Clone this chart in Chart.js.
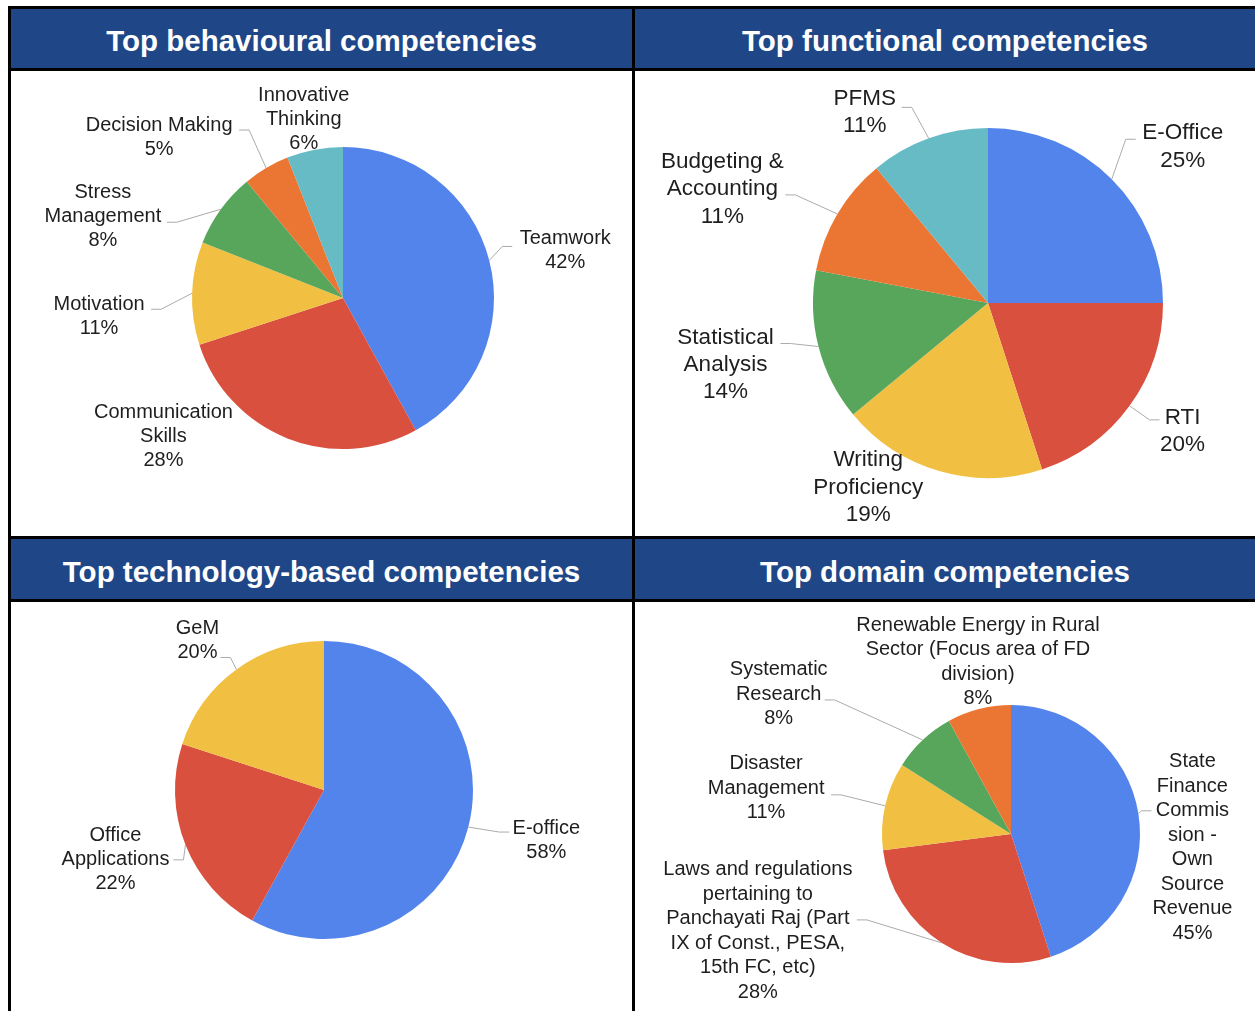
<!DOCTYPE html>
<html>
<head>
<meta charset="utf-8">
<title>Top competencies</title>
<script src="https://cdn.jsdelivr.net/npm/chart.js@4.4.1/dist/chart.umd.min.js"></script>
<style>
  html, body { margin: 0; padding: 0; background: #fff; }
  body { width: 1255px; height: 1011px; position: relative; overflow: hidden; font-family: "Liberation Sans", Arial, Helvetica, sans-serif; }
  .frame { position: absolute; left: 8px; top: 6px; right: 0; bottom: 0; background: #000; }
  .box { position: absolute; background: #fff; }
  .head { position: absolute; background: #1f4788; color: #fff; font-weight: bold; font-size: 29.5px;
          box-sizing: border-box; padding-top: 5px;
          display: flex; align-items: center; justify-content: center; white-space: nowrap; }
  canvas { display: block; }
</style>
</head>
<body>
<div class="frame"></div>

<div class="head" style="left:11px;top:9px;width:621px;height:59px">Top behavioural competencies</div>
<div class="head" style="left:635px;top:9px;width:620px;height:59px">Top functional competencies</div>
<div class="head" style="left:11px;top:539px;width:621px;height:60px">Top technology-based competencies</div>
<div class="head" style="left:635px;top:539px;width:620px;height:60px">Top domain competencies</div>

<div class="box" style="left:11px;top:71px"><canvas id="behavioural" width="621" height="465"></canvas></div>
<div class="box" style="left:635px;top:71px"><canvas id="functional" width="620" height="465"></canvas></div>
<div class="box" style="left:11px;top:602px"><canvas id="technology" width="621" height="409"></canvas></div>
<div class="box" style="left:635px;top:602px"><canvas id="domain" width="620" height="409"></canvas></div>

<script>
// shares in percent, slices run clockwise from 12 o'clock
const behaviouralLabels = ['Teamwork', ['Communication', 'Skills'], 'Motivation', ['Stress', 'Management'], 'Decision Making', ['Innovative', 'Thinking']];
const behaviouralShares = [42, 28, 11, 8, 5, 6];

const functionalLabels = ['E-Office', 'RTI', ['Writing', 'Proficiency'], ['Statistical', 'Analysis'], ['Budgeting &', 'Accounting'], 'PFMS'];
const functionalShares = [25, 20, 19, 14, 11, 11];

const technologyLabels = ['E-office', ['Office', 'Applications'], 'GeM'];
const technologyShares = [58, 22, 20];

const domainLabels = [
    ['State', 'Finance', 'Commis', 'sion -', 'Own', 'Source', 'Revenue'],
    ['Laws and regulations', 'pertaining to', 'Panchayati Raj (Part', 'IX of Const., PESA,', '15th FC, etc)'],
    ['Disaster', 'Management'],
    ['Systematic', 'Research'],
    ['Renewable Energy in Rural', 'Sector (Focus area of FD', 'division)']
];
const domainShares = [45, 28, 11, 8, 8];

const palette = ['#5384ec', '#d9503f', '#f1c042', '#58a65c', '#eb7532', '#67bbc5'];

// label block offset (dx, dy) from the slice's outer mid point; lead = end of leader line
const behaviouralPlacement = [
    { dx: 76, dy: -24, lead: [23, -14] },
    { dx: -124, dy: -28 },
    { dx: -93, dy: 9, lead: [-41, 16] },
    { dx: -118, dy: -19, lead: [-54, 13] },
    { dx: -107, dy: -45, lead: [-27, -38] },
    { dx: -11, dy: -56 }
];
const functionalPlacement = [
    { dx: 71, dy: -48, lead: [24, -40] },
    { dx: 53, dy: 10, lead: [30, 14] },
    { dx: -71, dy: -13 },
    { dx: -93, dy: -11, lead: [-38, -3] },
    { dx: -115, dy: -54, lead: [-52, -19] },
    { dx: -64, dy: -42, lead: [-27, -31] }
];
const technologyPlacement = [
    { dx: 78, dy: -1, lead: [41, 5] },
    { dx: -70, dy: -11, lead: [-12, 15] },
    { dx: -39, dy: -43, lead: [-16, -12] }
];
const domainPlacement = [
    { dx: 54, dy: -54, lead: [13, -3] },
    { dx: -184, dy: -75, lead: [-85, -23] },
    { dx: -119, dy: -44, lead: [-54, -11] },
    { dx: -144, dy: -72, lead: [-98, -40] },
    { dx: -1, dy: -86 }
];

// name + percentage outside each slice, with a bent grey leader line
const outsideLabels = {
    id: 'outsideLabels',
    afterDatasetsDraw(chart, args, opts) {
        const ctx = chart.ctx;
        const meta = chart.getDatasetMeta(0);
        const values = chart.data.datasets[0].data;
        ctx.save();
        ctx.font = opts.size + 'px "Liberation Sans", Arial, sans-serif';
        ctx.textAlign = 'center';
        ctx.textBaseline = 'middle';
        meta.data.forEach((arc, i) => {
            const p = arc.getProps(['x', 'y', 'startAngle', 'endAngle', 'outerRadius'], true);
            const mid = (p.startAngle + p.endAngle) / 2;
            const px = p.x + Math.cos(mid) * p.outerRadius;
            const py = p.y + Math.sin(mid) * p.outerRadius;
            const place = opts.placement[i];

            if (place.lead) {
                const ex = px + place.lead[0];
                const ey = py + place.lead[1];
                const kx = ex + (ex < px ? 10 : -10);
                ctx.strokeStyle = '#ababab';
                ctx.lineWidth = 1;
                ctx.beginPath();
                ctx.moveTo(px, py);
                ctx.lineTo(kx, ey);
                ctx.lineTo(ex, ey);
                ctx.stroke();
            }

            // 'middle' sits a little high for this face, nudge the rows down
            const lines = [].concat(chart.data.labels[i], values[i] + '%');
            ctx.fillStyle = '#1e1e1e';
            lines.forEach((t, k) => ctx.fillText(t, px + place.dx, py + place.dy + 2 + k * opts.lineHeight));
        });
        ctx.restore();
    }
};

function makePie(id, labels, shares, placement, geo, size, lineHeight) {
    const canvas = document.getElementById(id);
    const W = canvas.width, H = canvas.height;
    return new Chart(canvas, {
        type: 'pie',
        data: {
            labels: labels,
            datasets: [{
                data: shares,
                backgroundColor: palette.slice(0, shares.length),
                borderWidth: 0,
                clip: false
            }]
        },
        options: {
            responsive: false,
            animation: false,
            layout: {
                padding: {
                    left: geo.cx - geo.r,
                    top: geo.cy - geo.r,
                    right: W - geo.cx - geo.r,
                    bottom: H - geo.cy - geo.r
                }
            },
            plugins: {
                legend: { display: false },
                tooltip: { enabled: false },
                outsideLabels: { placement: placement, size: size, lineHeight: lineHeight }
            }
        },
        plugins: [outsideLabels]
    });
}

makePie('behavioural', behaviouralLabels, behaviouralShares, behaviouralPlacement, { cx: 332, cy: 227, r: 151 }, 20, 24);
makePie('functional', functionalLabels, functionalShares, functionalPlacement, { cx: 353, cy: 232, r: 175 }, 22.5, 27.3);
makePie('technology', technologyLabels, technologyShares, technologyPlacement, { cx: 313, cy: 188, r: 149 }, 20, 24);
makePie('domain', domainLabels, domainShares, domainPlacement, { cx: 376, cy: 232, r: 129 }, 20, 24.5);
</script>
</body>
</html>
